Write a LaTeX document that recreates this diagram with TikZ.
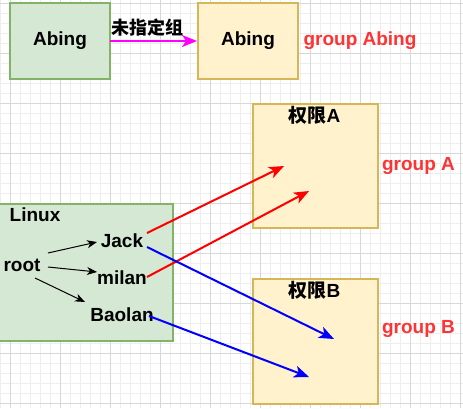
\documentclass[tikz,border=0pt]{standalone}
\usepackage{fontspec}
\setmainfont{Liberation Sans}
\newfontfamily\cjk{Noto Sans CJK SC}
\usetikzlibrary{arrows.meta}
\definecolor{gfill}{HTML}{D5E8D4}
\definecolor{gdraw}{HTML}{82B366}
\definecolor{yfill}{HTML}{FFF2CC}
\definecolor{ydraw}{HTML}{D6B656}
\definecolor{grp}{HTML}{FF3333}
\definecolor{mag}{HTML}{FF00FF}
\definecolor{rd}{HTML}{FF0000}
\definecolor{bl}{HTML}{0000FF}
\definecolor{minorg}{HTML}{EEEEEE}
\definecolor{majorg}{HTML}{D8D8D8}
\tikzset{
  txt/.style={font=\fontsize{19}{22}\selectfont\bfseries, inner sep=1pt, text=black},
  grptxt/.style={txt, text=grp},
  gbox/.style={draw=gdraw, fill=gfill, line width=1.4pt},
  ybox/.style={draw=ydraw, fill=yfill, line width=1.4pt},
  thin arrow/.style={draw=black, line width=1pt, -{Stealth[length=10pt,width=8pt,inset=3pt]}},
  thick arrow/.style={line width=2pt, -{Stealth[length=15pt,width=12pt,inset=4pt]}},
}
\begin{document}
\begin{tikzpicture}[x=1pt,y=-1pt]
\useasboundingbox (0,0) rectangle (463,408);
\fill[white] (0,0) rectangle (463,408);
% grid
\foreach \x in {0,10,...,460} \draw[minorg, line width=0.8pt] (\x,0) -- (\x,408);
\foreach \y in {3,13,...,403} \draw[minorg, line width=0.8pt] (0,\y) -- (463,\y);
\foreach \x in {10,60,...,460} \draw[majorg, line width=0.8pt] (\x,0) -- (\x,408);
\foreach \y in {3,53,...,403} \draw[majorg, line width=0.8pt] (0,\y) -- (463,\y);
% boxes
\draw[gbox] (10,3) rectangle (110,79);
\node[txt] (ab1) at (60,41) {Abing};
\draw[ybox] (198,3) rectangle (298,79);
\node[txt] (ab2) at (248,41) {Abing};
\node[grptxt] (gab) at (360,41) {group Abing};
\coordinate (ab1e) at (110,41);
\coordinate (ab2w) at (197,41);
\draw[thick arrow, draw=mag] (ab1e) -- (ab2w);
\node[txt, font=\cjk\fontsize{18}{20}\selectfont\bfseries] (lbl) at (147,28) {未指定组};
% permission boxes
\draw[ybox] (253,104) rectangle (378,228);
\node[txt] (pa) at (314.5,115) {{\cjk\bfseries 权限}A};
\draw[ybox] (253,279) rectangle (378,404);
\node[txt] (pb) at (314.5,290) {{\cjk\bfseries 权限}B};
\node[grptxt] (ga) at (418.5,166) {group A};
\node[grptxt] (gb) at (418.5,329) {group B};
% Linux box
\draw[gbox] (-2,204) rectangle (173,341);
\node[txt] (linux) at (35,215) {Linux};
\node[txt] (root) at (22,265) {root};
\node[txt] (jack) at (122,241) {Jack};
\node[txt] (milan) at (122,278) {milan};
\node[txt] (baolan) at (122,315) {Baolan};
% black arrows
\coordinate (r1) at (48,253);
\coordinate (r2) at (48,267);
\coordinate (r3) at (35,278);
\coordinate (j0) at (97,242);
\coordinate (m0) at (97,272);
\coordinate (b0) at (85,302);
\draw[thin arrow] (r1) -- (j0);
\draw[thin arrow] (r2) -- (m0);
\draw[thin arrow] (r3) -- (b0);
% red / blue
\coordinate (jr) at (147,233);
\coordinate (jb) at (147,247);
\coordinate (mr) at (147,277);
\coordinate (br) at (149,316);
\coordinate (a1) at (284,166);
\coordinate (a2) at (309,191);
\coordinate (b1) at (334,339);
\coordinate (b2) at (309,377);
\draw[thick arrow, draw=rd] (jr) -- (a1);
\draw[thick arrow, draw=rd] (mr) -- (a2);
\draw[thick arrow, draw=bl] (jb) -- (b1);
\draw[thick arrow, draw=bl] (br) -- (b2);
\end{tikzpicture}
\end{document}
